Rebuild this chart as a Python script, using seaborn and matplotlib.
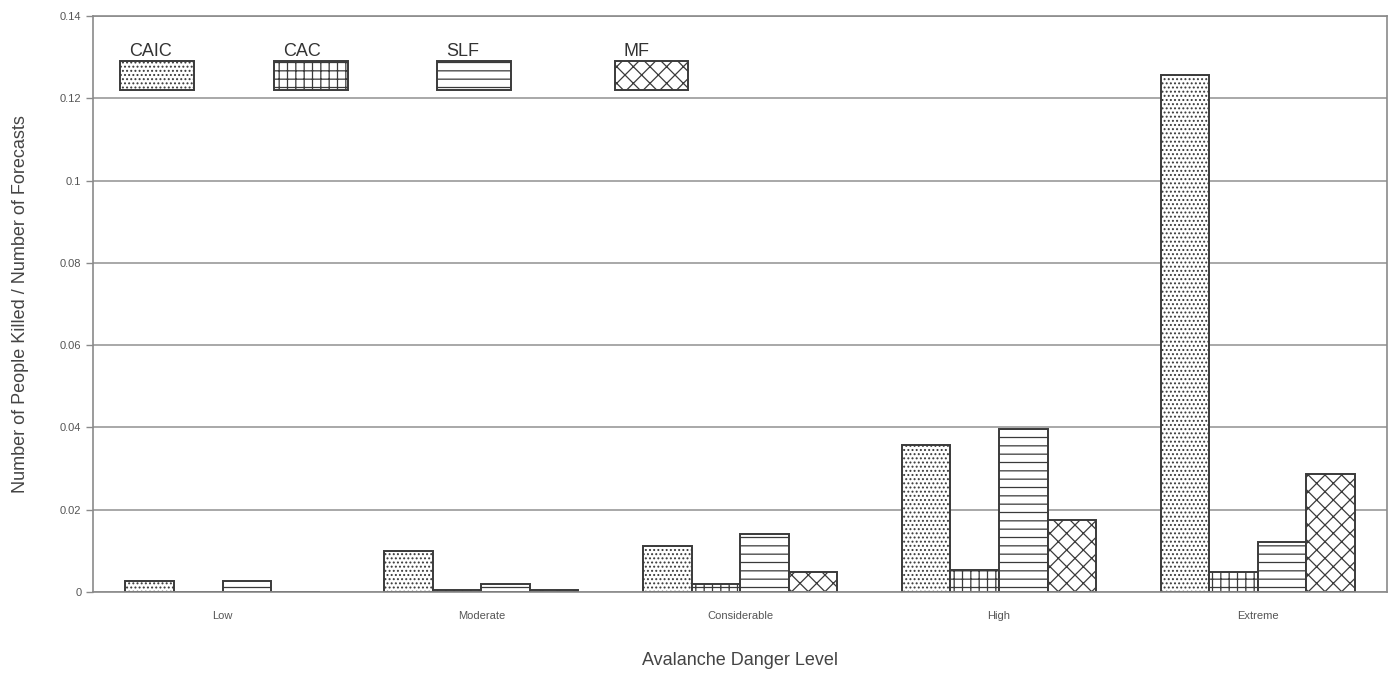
import numpy as np
import pandas as pd
import matplotlib
matplotlib.use("Agg")
import matplotlib.pyplot as plt
import seaborn as sns
from matplotlib.patches import Rectangle

# Data
levels = ["Low", "Moderate", "Considerable", "High", "Extreme"]
centers = ["CAIC", "CAC", "SLF", "MF"]
caic = [0.0027, 0.0098, 0.0112, 0.0357, 0.1257]
cac = [0.0, 0.0005, 0.0020, 0.0053, 0.0049]
slf = [0.0027, 0.0020, 0.0141, 0.0396, 0.0122]
mf = [0.0, 0.0005, 0.0049, 0.0175, 0.0287]

hatches = {"CAIC": "....", "CAC": "++", "SLF": "--", "MF": "xx"}
edge = "#3a3a3a"

df = pd.DataFrame({
    "level": levels * 4,
    "center": np.repeat(centers, len(levels)),
    "value": caic + cac + slf + mf,
})

sns.set_theme(style="white")
plt.rcParams["font.family"] = ["Liberation Sans", "DejaVu Sans"]
plt.rcParams["hatch.linewidth"] = 0.9

fig, ax = plt.subplots(figsize=(13.9, 6.74), dpi=100)
fig.subplots_adjust(left=0.067, right=0.998, top=0.976, bottom=0.122)

sns.barplot(
    data=df, x="level", y="value", hue="center", order=levels,
    hue_order=centers, width=0.75, palette=["white"] * 4,
    edgecolor=edge, linewidth=1.4, legend=False, ax=ax,
)

for cont, name in zip(ax.containers, centers):
    for bar in cont:
        bar.set_hatch(hatches[name])
        bar.set_edgecolor(edge)

ax.set_ylim(0, 0.14)
ax.set_yticks(np.arange(0, 0.141, 0.02))
ax.set_yticklabels(["0", "0.02", "0.04", "0.06", "0.08", "0.1", "0.12", "0.14"])
ax.yaxis.grid(True, color="#a8a8a8", linewidth=1.4)
ax.set_axisbelow(True)
for s in ax.spines.values():
    s.set_color("#8a8a8a")
    s.set_linewidth(1.2)

ax.tick_params(axis="y", length=5, width=1, color="#8a8a8a", labelsize=8,
               labelcolor="#555555", left=True)
ax.tick_params(axis="x", length=0, labelsize=8, labelcolor="#555555", pad=14)

ax.set_xlabel("Avalanche Danger Level", fontsize=13, color="#444444", labelpad=22)
ax.set_ylabel("Number of People Killed / Number of Forecasts", fontsize=13,
              color="#444444", labelpad=22)

# legend: boxes with labels above, inside the plot
leg_x = [0.021, 0.140, 0.266, 0.403]
for name, lx in zip(centers, leg_x):
    r = Rectangle((lx, 0.872), 0.057, 0.05, transform=ax.transAxes,
                  facecolor="white", edgecolor=edge, hatch=hatches[name],
                  linewidth=1.4, clip_on=False)
    ax.add_patch(r)
    ax.text(lx + 0.007, 0.924, name, transform=ax.transAxes, fontsize=13,
            color="#333333", ha="left", va="bottom")

fig.savefig("out.png", dpi=100)
